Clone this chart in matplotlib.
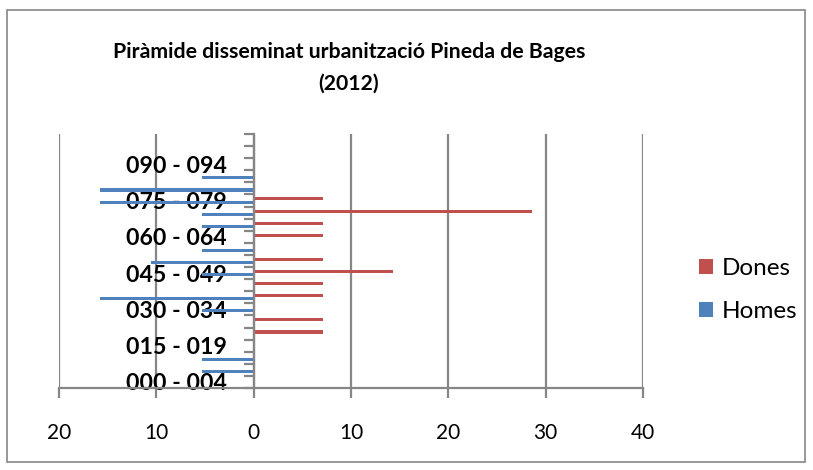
import matplotlib
matplotlib.use("Agg")
import matplotlib.pyplot as plt
from matplotlib.patches import Rectangle
from matplotlib.ticker import FixedLocator, NullFormatter

categories = ["000 - 004", "005 - 009", "010 - 014", "015 - 019", "020 - 024",
              "025 - 029", "030 - 034", "035 - 039", "040 - 044", "045 - 049",
              "050 - 054", "055 - 059", "060 - 064", "065 - 069", "070 - 074",
              "075 - 079", "080 - 084", "085 - 089", "090 - 094", "095 - 099",
              "100 - 104"]
homes = [0, 5.26, 5.26, 0, 0, 0, 5.26, 15.79, 0, 5.26,
         10.53, 5.26, 0, 5.26, 5.26, 15.79, 15.79, 5.26, 0, 0, 0]
dones = [0, 0, 0, 0, 7.14, 7.14, 0, 7.14, 7.14, 14.29,
         7.14, 0, 7.14, 7.14, 28.57, 7.14, 0, 0, 0, 0, 0]
xticks = [-20, -10, 0, 10, 20, 30, 40]
xticklabels = ["20", "10", "0", "10", "20", "30", "40"]
label_step = 3
title = "Piràmide disseminat urbanització Pineda de Bages\n(2012)"

RED = "#C0504D"
BLUE = "#4F81BD"
GRID = "#868686"
FONT = ["Lato", "DejaVu Sans"]
plt.rcParams["font.family"] = FONT

fig = plt.figure(figsize=(8.13, 4.70), dpi=100)
ax = fig.add_axes([59 / 813, 82 / 470, 584 / 813, 254 / 470])

n = len(categories)
ypos = list(range(n))
bh = 0.25
ax.barh([y - 0.13 for y in ypos], [-v for v in homes], height=bh, color=BLUE, label="Homes", zorder=3)
ax.barh([y + 0.13 for y in ypos], dones, height=bh, color=RED, label="Dones", zorder=3)

ax.set_xlim(-20, 40)
ax.set_ylim(-0.5, n - 0.5)

for x in xticks:
    ax.axvline(x, color=GRID, lw=1.6, zorder=1)

for s in ["top", "right"]:
    ax.spines[s].set_visible(False)
ax.spines["bottom"].set_color(GRID)
ax.spines["bottom"].set_linewidth(1.6)
ax.spines["left"].set_position(("data", 0))
ax.spines["left"].set_color(GRID)
ax.spines["left"].set_linewidth(1.6)
ax.spines["left"].set_zorder(4)

ax.set_xticks(xticks)
ax.set_xticklabels(xticklabels)
ax.tick_params(axis="x", direction="out", length=7, width=1.6, color=GRID,
               pad=18, labelsize=15)

ax.yaxis.set_major_locator(FixedLocator([y - 0.5 for y in range(n + 1)]))
ax.yaxis.set_major_formatter(NullFormatter())
ax.tick_params(axis="y", which="major", direction="out", length=7, width=1.6, color=GRID)
label_pos = ypos[::label_step][:7]
ax.yaxis.set_minor_locator(FixedLocator(label_pos))
ax.set_yticklabels([categories[i] for i in label_pos], minor=True,
                   fontsize=16.7, fontweight="bold")
ax.tick_params(axis="y", which="minor", length=0, pad=19.5)
for lbl in ax.get_yticklabels(minor=True):
    lbl.set_zorder(5)

fig.text(349 / 813, 1 - 67.5 / 470, title, ha="center", va="center",
         fontsize=15.3, fontweight="bold", linespacing=1.74)

h, l = ax.get_legend_handles_labels()
leg = fig.legend(h[::-1], l[::-1], loc="center left",
                 bbox_to_anchor=(699 / 813, 1 - 290 / 470), frameon=False,
                 fontsize=17.5, handlelength=0.58, handleheight=0.58,
                 handletextpad=0.37, labelspacing=0.93, borderpad=0,
                 borderaxespad=0)

fig.patches.append(Rectangle((7 / 813, 8 / 470), 798 / 813, 452 / 470,
                             transform=fig.transFigure, fill=False,
                             edgecolor=GRID, lw=1.2))

fig.savefig("out.png", dpi=100)
